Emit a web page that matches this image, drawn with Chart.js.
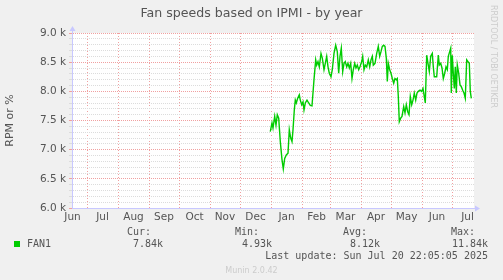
<!DOCTYPE html>
<html>
<head>
<meta charset="utf-8">
<script src="https://cdn.jsdelivr.net/npm/chart.js@4"></script>
<style>
  html, body { margin: 0; padding: 0; background: #f0f0f0; }
  #wrap { position: relative; width: 503px; height: 280px; overflow: hidden; }
  #title { position: absolute; left: 0; width: 503px; top: 5px; text-align: center;
           font: 12.6px "DejaVu Sans"; color: #555; }
  .lg { position: absolute; font: 10px "DejaVu Sans Mono"; color: #555; line-height: 12px; white-space: pre; }
  #swatch { position: absolute; left: 14px; top: 241px; width: 6px; height: 6px; background: #00cc00; }
  #rrd { position: absolute; left: 489px; top: 5px; writing-mode: vertical-rl; font: 8px "DejaVu Sans"; color: #ccc; }
  #munin { position: absolute; left: 0; width: 503px; top: 266px; text-align: center; font: 8px "DejaVu Sans"; color: #ccc; }
</style>
</head>
<body>
<div id="wrap">
  <canvas id="fanChart" width="503" height="280"></canvas>
  <div id="title">Fan speeds based on IPMI - by year</div>
  <div id="rrd">RRDTOOL / TOBI OETIKER</div>

  <div class="lg" style="right:352px; top:226px">Cur:</div>
  <div class="lg" style="right:244px; top:226px">Min:</div>
  <div class="lg" style="right:136px; top:226px">Avg:</div>
  <div class="lg" style="right:28px; top:226px">Max:</div>

  <div id="swatch"></div>
  <div class="lg" style="left:27px; top:238px">FAN1</div>
  <div class="lg" style="right:340px; top:238px">7.84k</div>
  <div class="lg" style="right:231px; top:238px">4.93k</div>
  <div class="lg" style="right:123px; top:238px">8.12k</div>
  <div class="lg" style="right:15px; top:238px">11.84k</div>

  <div class="lg" style="right:15px; top:250px">Last update: Sun Jul 20 22:05:05 2025</div>
  <div id="munin">Munin 2.0.42</div>
</div>

<script>
// x values are days counted from 1 Jul 2024
const monthStarts = [0, 31, 62, 92, 123, 153, 184, 215, 243, 274, 304, 335, 365];
const monthMids = [-14.5, 15.5, 46.5, 77, 107.5, 138, 168.5, 199.5, 229.5, 258.5, 289, 319.5, 350, 380.5];
const monthLabels = ["Jun","Jul","Aug","Sep","Oct","Nov","Dec","Jan","Feb","Mar","Apr","May","Jun","Jul"];

const days = [
  183.3,185,186,187.7,189,190.3,191.7,193.3,195,196.3,197.7,199.3,201,202.3,203.7,205,206,207.3,208.3,209.3,
  210.7,212.3,213.3,214.7,216,217,218.3,220,221.7,223.3,225,227,228.7,229.7,231,232.3,234,235.3,237,238.3,
  239.7,241,242.3,244,245.3,247,248.7,250.3,251.7,253,254.3,255.7,257,258.3,259.7,261,262.3,263.7,265,266.3,
  267.7,269,270.3,271.7,273,274.7,275.7,277,278.3,279.7,281.3,282.7,284,285.3,286.3,288,289.7,291.3,292.7,294,
  295.3,296.7,298,299.3,300.3,301.3,302.7,304,305.3,306.7,308,309.3,310.3,311.3,312.3,313.7,315,316.7,318,319.3,
  320.7,322,323.3,324.7,326,327.3,328.7,330,331.3,333,334.7,336,337.3,338.3,339.7,341,342.3,343.7,345.3,346.3,
  347.3,348.3,349.7,351.3,352.3,353.7,355,356.3,357.7,359,360.3,361.3,362.7,363.7,364.3,365.3,366.3,367.3,368.3,369.3,
  370.3,371.7,373,374.3,375.7,377,378.3,379.7,381,382.3,383.3,384.3
];
const fan1 = [
  7310,7460,7370,7570,7420,7600,7540,7140,6830,6670,6850,6910,6940,7340,7200,7140,7340,7680,7850,7800,
  7880,7940,7850,7770,7820,7680,7800,7850,7800,7760,7750,8200,8540,8450,8510,8420,8650,8570,8370,8480,
  8600,8420,8310,8250,8370,8650,8790,8680,8310,8600,8740,8340,8480,8510,8420,8480,8400,8480,8220,8370,
  8480,8400,8450,8370,8420,8510,8600,8370,8450,8420,8540,8420,8540,8600,8450,8480,8650,8770,8600,8680,
  8770,8790,8770,8570,8170,8480,8370,8310,8220,8140,8220,8200,8220,7910,7480,7540,7570,7740,7630,7770,
  7650,7600,7910,7770,7850,7970,7850,7970,8000,8020,8000,8050,7910,7800,8620,8480,8340,8600,8650,8420,
  8250,8250,8250,8620,8450,8480,8400,8220,8310,8420,8370,8600,8680,8740,7970,8620,8310,8050,8420,7970,
  8450,8310,8110,8080,8020,7970,7880,8540,8510,8480,8000,7880
];

Chart.defaults.font.family = "DejaVu Sans";
Chart.defaults.color = "#555";

const axisColor = "#c8c8ff";

// white plot area + axis arrows like rrdtool
const rrdFrame = {
  id: "rrdFrame",
  beforeDraw(chart){
    const {ctx, chartArea:a} = chart;
    ctx.save();
    ctx.fillStyle = "#fff";
    ctx.fillRect(a.left, a.top, a.right - a.left, a.bottom - a.top);
    ctx.restore();
  },
  afterDraw(chart){
    const {ctx, chartArea:a} = chart;
    ctx.save();
    ctx.strokeStyle = axisColor;
    ctx.fillStyle = axisColor;
    ctx.beginPath(); ctx.moveTo(a.left + 0.5, a.top); ctx.lineTo(a.left + 0.5, a.top - 3); ctx.stroke();
    ctx.beginPath(); ctx.moveTo(a.right, a.bottom + 0.5); ctx.lineTo(a.right + 2, a.bottom + 0.5); ctx.stroke();
    ctx.beginPath();
    ctx.moveTo(a.left + 0.5, a.top - 7); ctx.lineTo(a.left - 2.5, a.top - 2); ctx.lineTo(a.left + 3.5, a.top - 2);
    ctx.closePath(); ctx.fill();
    ctx.beginPath();
    ctx.moveTo(a.right + 6, a.bottom + 0.5); ctx.lineTo(a.right + 1, a.bottom - 2.5); ctx.lineTo(a.right + 1, a.bottom + 3.5);
    ctx.closePath(); ctx.fill();
    ctx.restore();
  }
};

const ctx = document.getElementById("fanChart");

const fanChart = new Chart(ctx, {
  type: "line",
  data: {
    datasets: [{
      label: "FAN1",
      data: days.map((d, i) => ({x: d, y: fan1[i]})),
      borderColor: "#00cc00",
      borderWidth: 1.4,
      pointRadius: 0,
      tension: 0
    }]
  },
  options: {
    responsive: false,
    animation: false,
    layout: { padding: { top: 33, right: 29, bottom: 52, left: 0 } },
    plugins: {
      legend: { display: false },
      title: { display: false },
      tooltip: { enabled: false }
    },
    scales: {
      x: {
        type: "linear",
        min: -15, max: 387,
        weight: 0,
        afterBuildTicks: s => { s.ticks = monthStarts.map(v => ({value: v})); },
        ticks: { display: false },
        grid: { color: "#f0a0a0", drawTicks: false },
        border: { color: axisColor, dash: [1, 2] },
        afterFit: s => { s.height = 0; }
      },
      x2: {
        type: "linear",
        position: "bottom",
        min: -15, max: 387,
        weight: 1,
        afterBuildTicks: s => { s.ticks = monthMids.map(v => ({value: v})); },
        ticks: {
          autoSkip: false, maxRotation: 0, padding: 3,
          font: { size: 10.5 },
          callback: (v, i) => monthLabels[i]
        },
        grid: { display: false, drawTicks: false },
        border: { display: false },
        afterFit: s => { s.height = 20; }
      },
      y: {
        min: 6000, max: 9000,
        ticks: {
          stepSize: 100, autoSkip: false, padding: 3,
          font: { size: 10.5 },
          callback: v => v % 500 === 0 ? (v / 1000).toFixed(1) + " k" : ""
        },
        grid: {
          tickLength: 3,
          color: c => (c.tick && c.tick.value % 500 === 0) ? "#f0a0a0" : "#dcdcdc"
        },
        border: { color: axisColor, dash: [1, 1] },
        title: { display: true, text: "RPM or %", font: { size: 11 }, padding: { top: 4, bottom: 4 } },
        afterFit: s => { s.width = 72; }
      }
    }
  },
  plugins: [rrdFrame]
});
</script>
</body>
</html>
